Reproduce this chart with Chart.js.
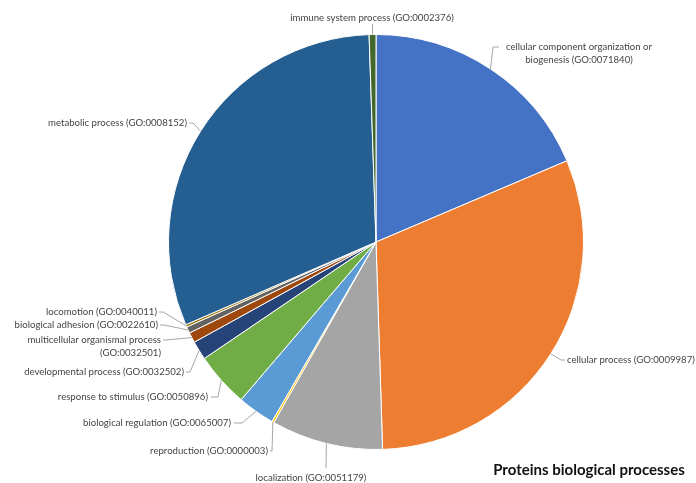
<!DOCTYPE html>
<html>
<head>
<meta charset="utf-8">
<script src="https://cdn.jsdelivr.net/npm/chart.js@4.4.1/dist/chart.umd.min.js"></script>
<style>
  html, body { margin: 0; padding: 0; background: #ffffff; }
  #wrap { width: 696px; height: 483px; position: relative; }
</style>
</head>
<body>
<div id="wrap"><canvas id="c" width="696" height="483"></canvas></div>
<script>
// ---- data ----
const categories = [
  "cellular component organization or biogenesis (GO:0071840)",
  "cellular process (GO:0009987)",
  "localization (GO:0051179)",
  "reproduction (GO:0000003)",
  "biological regulation (GO:0065007)",
  "response to stimulus (GO:0050896)",
  "developmental process (GO:0032502)",
  "multicellular organismal process (GO:0032501)",
  "biological adhesion (GO:0022610)",
  "locomotion (GO:0040011)",
  "metabolic process (GO:0008152)",
  "immune system process (GO:0002376)"
];
const values = [18.6, 30.9, 8.7, 0.17, 2.9, 4.25, 1.47, 0.8, 0.5, 0.19, 31.0, 0.53];
const labelLines = [
  ["cellular component organization or", "biogenesis (GO:0071840)"],
  ["cellular process (GO:0009987)"],
  ["localization (GO:0051179)"],
  ["reproduction (GO:0000003)"],
  ["biological regulation (GO:0065007)"],
  ["response to stimulus (GO:0050896)"],
  ["developmental process (GO:0032502)"],
  ["multicellular organismal process", "(GO:0032501)"],
  ["biological adhesion (GO:0022610)"],
  ["locomotion (GO:0040011)"],
  ["metabolic process (GO:0008152)"],
  ["immune system process (GO:0002376)"]
];
const title = "Proteins biological processes";

// ---- styles / layout ----
const colors = ["#4472C4", "#ED7D31", "#A5A5A5", "#FFC000", "#5B9BD5", "#70AD47",
                "#264478", "#9E480E", "#636363", "#997300", "#255E91", "#43682B"];
// label layout: text anchor (tx, ty), align, elbow point (ex, ey), line end x near text (hx)
const labelLayout = [
  { tx: 579, ty: 47, align: "center", ex: 493, ey: 47, hx: 499 },
  { tx: 567, ty: 360, align: "left", ex: 561, ey: 360, hx: 565 },
  { tx: 311, ty: 478, align: "center", ex: 326, ey: 468, hx: null },
  { tx: 268, ty: 451, align: "right", ex: 272, ey: 451, hx: 270 },
  { tx: 231, ty: 423, align: "right", ex: 242, ey: 423, hx: 234 },
  { tx: 208, ty: 397, align: "right", ex: 218, ey: 397, hx: 211 },
  { tx: 184, ty: 372, align: "right", ex: 190, ey: 372, hx: 186 },
  { tx: 161, ty: 340, align: "right", ex: 166, ey: 340, hx: 163 },
  { tx: 158, ty: 325, align: "right", ex: 164, ey: 325, hx: 160 },
  { tx: 157, ty: 312, align: "right", ex: 163, ey: 312, hx: 159 },
  { tx: 187, ty: 123, align: "right", ex: 193, ey: 123, hx: 189 },
  { tx: 372, ty: 18, align: "center", ex: null, ey: 24, hx: null }
];
const labelFont = "9.6px Lato";
const labelColor = "#444444";
const lineH = 13;

const labelPlugin = {
  id: "leaderLabels",
  afterDraw(chart) {
    const ctx = chart.ctx;
    const meta = chart.getDatasetMeta(0);
    ctx.save();
    ctx.font = labelFont;
    ctx.textBaseline = "middle";
    meta.data.forEach((arc, i) => {
      const L = labelLayout[i];
      const mid = (arc.startAngle + arc.endAngle) / 2;
      const sx = arc.x + Math.cos(mid) * arc.outerRadius;
      const sy = arc.y + Math.sin(mid) * arc.outerRadius;
      ctx.strokeStyle = "#a6a6a6";
      ctx.lineWidth = 1;
      ctx.beginPath();
      ctx.moveTo(sx, sy);
      const ex = L.ex === null ? sx : L.ex;
      ctx.lineTo(ex, L.ey);
      if (L.hx !== null) ctx.lineTo(L.hx, L.ey);
      ctx.stroke();
      ctx.fillStyle = labelColor;
      ctx.textAlign = L.align;
      labelLines[i].forEach((t, k) => {
        ctx.fillText(t, L.tx, L.ty + k * lineH);
      });
    });
    ctx.font = "bold 15px Lato";
    ctx.fillStyle = "#111111";
    ctx.textAlign = "center";
    ctx.fillText(title, 589, 470);
    ctx.restore();
  }
};

new Chart(document.getElementById("c"), {
  type: "pie",
  data: {
    labels: categories,
    datasets: [{
      data: values,
      backgroundColor: colors,
      borderColor: "#ffffff",
      borderWidth: 1,
      hoverOffset: 0
    }]
  },
  options: {
    responsive: false,
    animation: false,
    devicePixelRatio: 1,
    layout: { padding: { top: 34, bottom: 33, left: 168, right: 112 } },
    plugins: {
      legend: { display: false },
      tooltip: { enabled: false },
      title: { display: false }
    }
  },
  plugins: [labelPlugin]
});
</script>
</body>
</html>
